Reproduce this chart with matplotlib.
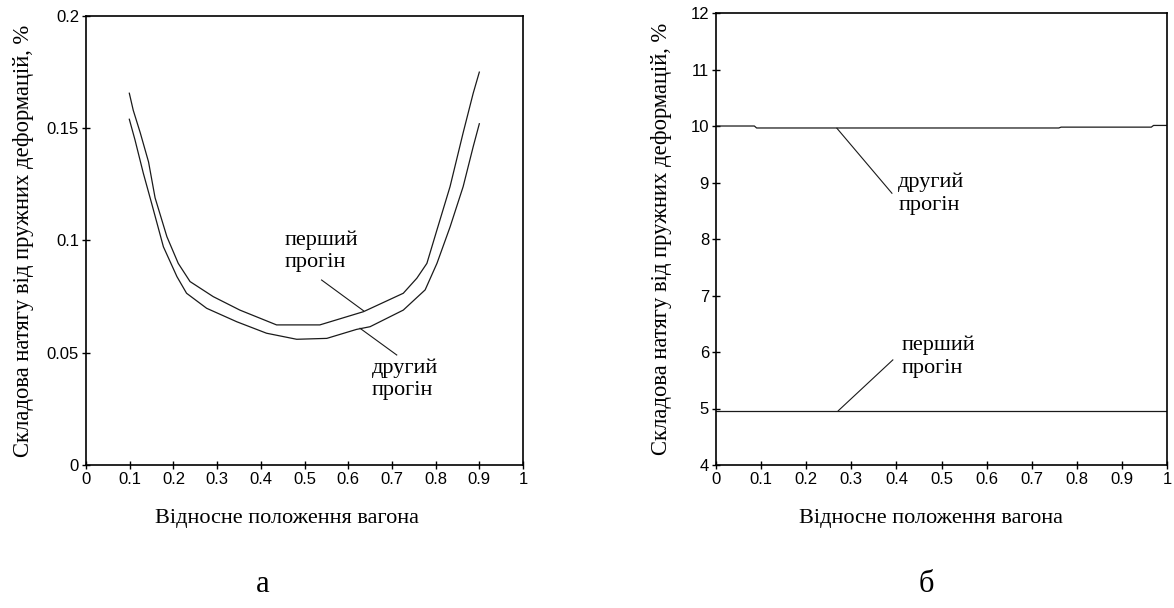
import matplotlib
matplotlib.use('Agg')
import matplotlib.pyplot as plt

plt.rcParams['font.family'] = ['Liberation Serif', 'DejaVu Serif']

# data
# (a) left chart
x_first_a = [0.099, 0.108, 0.124, 0.143, 0.158, 0.185, 0.211, 0.238, 0.291, 0.352,
             0.436, 0.535, 0.635, 0.726, 0.757, 0.780, 0.803, 0.833, 0.863, 0.886, 0.900]
y_first_a = [0.1656, 0.158, 0.148, 0.135, 0.119, 0.1017, 0.0898, 0.0817, 0.075, 0.069,
             0.0624, 0.0624, 0.0683, 0.0765, 0.0832, 0.0898, 0.1047, 0.124, 0.148, 0.1656, 0.175]
x_second_a = [0.099, 0.112, 0.131, 0.150, 0.177, 0.208, 0.230, 0.276, 0.345, 0.413,
              0.482, 0.551, 0.619, 0.650, 0.726, 0.776, 0.803, 0.833, 0.863, 0.886, 0.900]
y_second_a = [0.154, 0.1448, 0.130, 0.1166, 0.0972, 0.0839, 0.0765, 0.0698, 0.0638, 0.0587,
              0.056, 0.0564, 0.0604, 0.0616, 0.069, 0.078, 0.0898, 0.106, 0.124, 0.1418, 0.152]

# (b) right chart
x_first_b = [0.0, 1.0]
y_first_b = [4.96, 4.96]
x_second_b = [0.0, 0.085, 0.09, 0.76, 0.765, 0.965, 0.97, 1.0]
y_second_b = [10.0, 10.0, 9.965, 9.965, 9.98, 9.98, 10.01, 10.01]

xticks = [0, 0.1, 0.2, 0.3, 0.4, 0.5, 0.6, 0.7, 0.8, 0.9, 1]
xtick_labels = ['0', '0.1', '0.2', '0.3', '0.4', '0.5', '0.6', '0.7', '0.8', '0.9', '1']
yticks_a = [0, 0.05, 0.1, 0.15, 0.2]
ytick_labels_a = ['0', '0.05', '0.1', '0.15', '0.2']
yticks_b = [4, 5, 6, 7, 8, 9, 10, 11, 12]
ytick_labels_b = ['4', '5', '6', '7', '8', '9', '10', '11', '12']

ylabel = 'Складова натягу від пружних деформацій, %'
xlabel = 'Відносне положення вагона'
lbl_first = 'перший\nпрогін'
lbl_second = 'другий\nпрогін'

line_col = '#1a1a1a'
tick_font = {'family': ['Liberation Sans Narrow', 'Liberation Sans', 'DejaVu Sans'], 'size': 12}

fig = plt.figure(figsize=(11.74, 6.08), dpi=100)
ax1 = fig.add_axes([0.0733, 0.2352, 0.3722, 0.7385])
ax2 = fig.add_axes([0.6099, 0.2352, 0.3842, 0.7434])


def style(ax, yticks, ylabels, ylim, lab_x, xlab_x):
    ax.set_xlim(0, 1)
    ax.set_ylim(*ylim)
    ax.set_xticks(xticks)
    ax.set_xticklabels(xtick_labels, fontdict=tick_font)
    ax.set_yticks(yticks)
    ax.set_yticklabels(ylabels, fontdict=tick_font)
    ax.tick_params(direction='inout', length=6, width=1, pad=2, colors='black')
    for s in ax.spines.values():
        s.set_linewidth(1.2)
    ax.set_ylabel(ylabel, fontsize=16.3)
    ax.yaxis.set_label_coords(lab_x, 0.5)
    ax.set_xlabel(xlabel, fontsize=16)
    ax.xaxis.set_label_coords(xlab_x, -0.098)


# left chart
ax1.plot(x_first_a, y_first_a, color=line_col, lw=0.9)
ax1.plot(x_second_a, y_second_a, color=line_col, lw=0.9)
style(ax1, yticks_a, ytick_labels_a, (0, 0.2), -0.119, 0.459)
ax1.plot([0.539, 0.635], [0.0824, 0.0687], color=line_col, lw=0.8)
ax1.plot([0.627, 0.711], [0.0609, 0.049], color=line_col, lw=0.8)
ax1.text(0.455, 0.1045, lbl_first, fontsize=16, va='top', ha='left', linespacing=1.25)
ax1.text(0.654, 0.0475, lbl_second, fontsize=16, va='top', ha='left', linespacing=1.25)

# right chart
ax2.plot(x_first_b, y_first_b, color=line_col, lw=0.9)
ax2.plot(x_second_b, y_second_b, color=line_col, lw=0.9)
style(ax2, yticks_b, ytick_labels_b, (4, 12), -0.097, 0.477)
ax2.plot([0.268, 0.390], [9.96, 8.81], color=line_col, lw=0.8)
ax2.plot([0.392, 0.271], [5.86, 4.96], color=line_col, lw=0.8)
ax2.text(0.404, 9.17, lbl_second, fontsize=16, va='top', ha='left', linespacing=1.25)
ax2.text(0.412, 6.29, lbl_first, fontsize=16, va='top', ha='left', linespacing=1.25)

# subplot letters
fig.text(263 / 1174, 1 - 585 / 608, 'а', fontsize=22, ha='center', va='center')
fig.text(926 / 1174, 1 - 585 / 608, 'б', fontsize=22, ha='center', va='center')

fig.savefig('out.png', dpi=100)
